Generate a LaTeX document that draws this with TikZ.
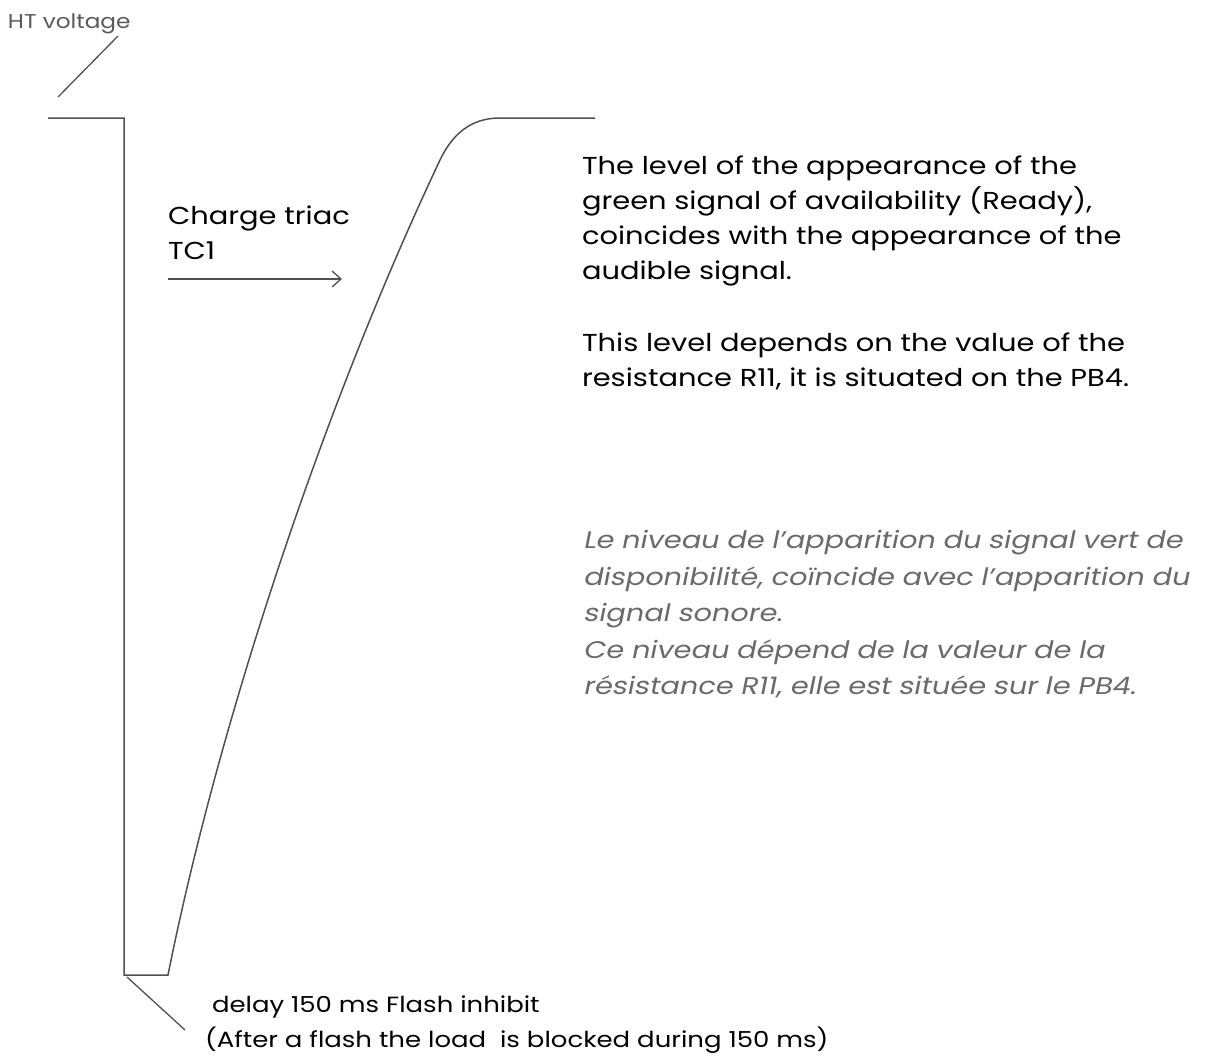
\documentclass[tikz,border=0pt]{standalone}
\usepackage{fontspec}
\setmainfont{Poppins}[FakeStretch=1.18]
\newfontfamily\oblfont{Poppins}[FakeSlant=0.2,FakeStretch=1.2]
\newfontfamily\htfont{Poppins}[FakeStretch=1.16]
\usetikzlibrary{arrows.meta}
\definecolor{wirec}{HTML}{505050}
\definecolor{grayt}{HTML}{5A5A5A}
\definecolor{frt}{HTML}{6A6A6A}
\begin{document}
\begin{tikzpicture}[x=1pt,y=-1pt,
  wire/.style={draw=wirec, line width=1.5pt, line join=miter},
  lead/.style={draw=wirec, line width=1.3pt},
  txt/.style={anchor=base west, inner sep=0pt, outer sep=0pt},
  entxt/.style={txt, font=\fontsize{24.5}{24.5}\selectfont},
  frtxt/.style={txt, text=frt, font=\oblfont\fontsize{24}{24}\selectfont},
  bottxt/.style={txt, font=\fontsize{22}{22}\selectfont}]
\useasboundingbox (0,0) rectangle (1212,1057);

% HT voltage label and leader
\node[txt, text=grayt, font=\htfont\fontsize{20}{20}\selectfont] (ht) at (8,29) {HT voltage};
\coordinate (htA) at (118,36);
\coordinate (htB) at (58,97);
\draw[lead] (htA) -- (htB);

% waveform
\coordinate (w0) at (48,118);
\coordinate (w1) at (124,118);
\coordinate (w2) at (124,975);
\coordinate (w3) at (168,975);
\coordinate (w4) at (440,160);
\coordinate (w5) at (500,118);
\coordinate (w6) at (595,118);
\draw[wire] (w0) -- (w1) -- (w2) -- (w3)
  .. controls (218,725) and (322,410) .. (w4)
  .. controls (452,135) and (470,118) .. (w5) -- (w6);

% Charge triac
\node[entxt] (ct1) at (168,224) {Charge triac};
\node[entxt] (ct2) at (168,259) {TC1};
\coordinate (arA) at (168,279);
\coordinate (arB) at (342,279);
\draw[lead, -{Straight Barb[length=9pt,width=16pt]}] (arA) -- (arB);

% English text
\node[entxt] (en1) at (582,174) {The level of the appearance of the};
\node[entxt] (en2) at (582,209) {green signal of availability (Ready),};
\node[entxt] (en3) at (582,244) {coincides with the appearance of the};
\node[entxt] (en4) at (582,279) {audible signal.};
\node[entxt] (en5) at (582,351) {This level depends on the value of the};
\node[entxt] (en6) at (582,386) {resistance R11, it is situated on the PB4.};

% French text
\node[frtxt] (fr1) at (583,548) {Le niveau de l’apparition du signal vert de};
\node[frtxt] (fr2) at (583,585) {disponibilité, coïncide avec l’apparition du};
\node[frtxt] (fr3) at (583,621) {signal sonore.};
\node[frtxt] (fr4) at (583,658) {Ce niveau dépend de la valeur de la};
\node[frtxt] (fr5) at (583,694) {résistance R11, elle est située sur le PB4.};

% delay leader and text
\coordinate (dlA) at (127,977);
\coordinate (dlB) at (185,1030);
\draw[lead] (dlA) -- (dlB);
\node[bottxt] (d1) at (212,1012) {delay 150 ms Flash inhibit};
\node[bottxt] (d2) at (205,1047) {(After a flash the load\ \ is blocked during 150 ms)};
\end{tikzpicture}
\end{document}
